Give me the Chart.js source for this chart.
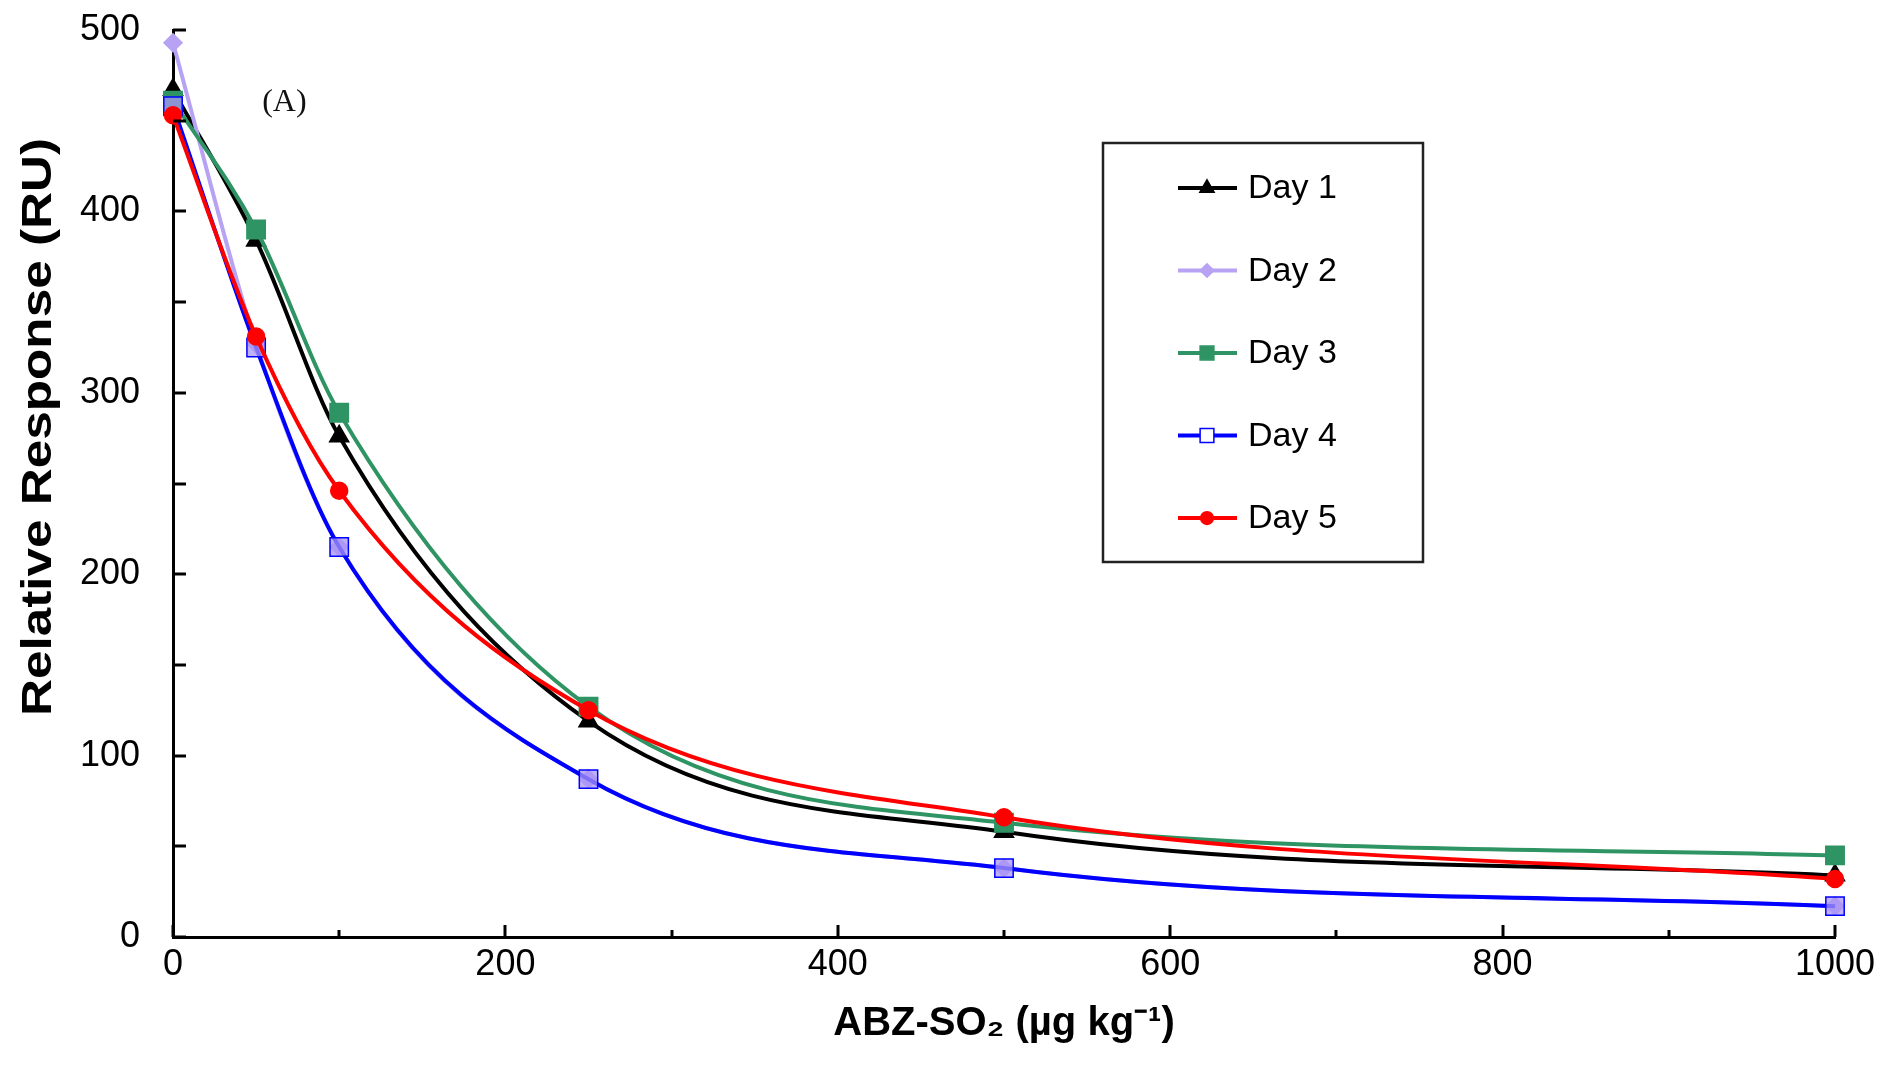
<!DOCTYPE html>
<html>
<head>
<meta charset="utf-8">
<title>Relative Response vs ABZ-SO2</title>
<script src="https://cdn.jsdelivr.net/npm/chart.js@4.4.1/dist/chart.umd.min.js"></script>
<style>
  html, body { margin: 0; padding: 0; background: #fff; }
  canvas { display: block; }
</style>
</head>
<body>
<canvas id="responseChart" width="1885" height="1079"></canvas>
<script>
// spiked concentration (µg/kg) and instrument response per day
const concentrations = [0, 50, 100, 250, 500, 1000];
const day1 = [467, 384, 276, 119, 58, 34];
const day2 = [493, 327, 215, 87, 38, 17];
const day3 = [461, 390, 289, 127, 63, 45];
const day4 = [458, 325, 215, 87, 38, 17];
const day5 = [453, 331, 246, 125, 66, 32];
const dayLabels = ['Day 1', 'Day 2', 'Day 3', 'Day 4', 'Day 5'];

const FONT = "'Liberation Sans', Arial, sans-serif";

function toPoints(values) {
  return concentrations.map((x, i) => ({ x: x, y: values[i] }));
}

function series(label, values, color, style, radius, fill, order) {
  return {
    label: label,
    data: toPoints(values),
    borderColor: color,
    backgroundColor: color,
    borderWidth: 4,
    pointStyle: style,
    pointRadius: radius,
    pointHoverRadius: radius,
    pointBackgroundColor: fill,
    pointBorderColor: color,
    pointBorderWidth: 1.5,
    cubicInterpolationMode: 'monotone',
    clip: 20,
    order: order
  };
}

// short inward tick marks on both axes
const innerTicks = {
  id: 'innerTicks',
  afterDatasetsDraw(chart) {
    const { ctx, chartArea, scales } = chart;
    ctx.save();
    ctx.strokeStyle = '#000';
    ctx.lineWidth = 3;
    scales.y.ticks.forEach(t => {
      const py = Math.round(scales.y.getPixelForValue(t.value));
      ctx.beginPath();
      ctx.moveTo(chartArea.left, py);
      ctx.lineTo(chartArea.left + 13, py);
      ctx.stroke();
    });
    scales.x.ticks.forEach(t => {
      const px = Math.round(scales.x.getPixelForValue(t.value));
      const len = t.value % 200 === 0 ? 12 : 7;
      ctx.beginPath();
      ctx.moveTo(px, chartArea.bottom);
      ctx.lineTo(px, chartArea.bottom - len);
      ctx.stroke();
    });
    ctx.restore();
  }
};

// vertical axis title, drawn a little stretched along its length
const yTitle = {
  id: 'yTitle',
  afterDraw(chart) {
    const { ctx } = chart;
    ctx.save();
    ctx.translate(39, 427);
    ctx.rotate(-Math.PI / 2);
    ctx.scale(1.22, 1);
    ctx.fillStyle = '#000';
    ctx.font = 'bold 42px ' + FONT;
    ctx.textAlign = 'center';
    ctx.textBaseline = 'middle';
    ctx.fillText('Relative Response (RU)', 0, 0);
    ctx.restore();
  }
};

// panel letter
const panelLabel = {
  id: 'panelLabel',
  afterDraw(chart) {
    const { ctx, scales } = chart;
    ctx.save();
    ctx.fillStyle = '#111';
    ctx.font = "32px 'Liberation Serif', 'Times New Roman', serif";
    ctx.textAlign = 'center';
    ctx.textBaseline = 'middle';
    ctx.fillText('(A)', scales.x.getPixelForValue(67), scales.y.getPixelForValue(460));
    ctx.restore();
  }
};

// boxed legend sitting inside the plot
const boxLegend = {
  id: 'boxLegend',
  afterDraw(chart) {
    const { ctx } = chart;
    const left = 1103, top = 143, width = 320, height = 419;
    ctx.save();
    ctx.fillStyle = '#fff';
    ctx.fillRect(left, top, width, height);
    ctx.strokeStyle = '#222';
    ctx.lineWidth = 2.5;
    ctx.strokeRect(left, top, width, height);
    chart.data.datasets.forEach((ds, i) => {
      const y = top + 45 + i * 82.5;
      ctx.strokeStyle = ds.borderColor;
      ctx.lineWidth = 4;
      ctx.beginPath();
      ctx.moveTo(left + 75, y);
      ctx.lineTo(left + 134, y);
      ctx.stroke();
      ctx.fillStyle = ds.legendFill || ds.pointBackgroundColor;
      ctx.strokeStyle = ds.pointBorderColor;
      ctx.lineWidth = 1.5;
      Chart.helpers.drawPoint(ctx, {
        pointStyle: ds.pointStyle,
        radius: ds.pointRadius * 0.75,
        borderWidth: 1.5,
        rotation: 0
      }, left + 104, y);
      ctx.fillStyle = '#000';
      ctx.font = '34px ' + FONT;
      ctx.textAlign = 'left';
      ctx.textBaseline = 'middle';
      ctx.fillText(ds.label, left + 145, y + 1);
    });
    ctx.restore();
  }
};

const day4Set = series(dayLabels[3], day4, '#0000ff', 'rect', 13, 'rgba(170,150,245,0.75)', 2);
day4Set.legendFill = '#ffffff';

new Chart(document.getElementById('responseChart'), {
  type: 'line',
  data: {
    datasets: [
      series(dayLabels[0], day1, '#000000', 'triangle', 11, '#000000', 5),
      series(dayLabels[1], day2, '#b7a2f4', 'rectRot', 9, '#b7a2f4', 4),
      series(dayLabels[2], day3, '#2f9463', 'rect', 13, '#2f9463', 3),
      day4Set,
      series(dayLabels[4], day5, '#ff0000', 'circle', 8.5, '#ff0000', 1)
    ]
  },
  options: {
    responsive: false,
    animation: false,
    layout: { padding: { top: 30, right: 50, bottom: 0, left: 0 } },
    plugins: {
      legend: { display: false },
      tooltip: { enabled: false }
    },
    scales: {
      x: {
        type: 'linear',
        min: 0,
        max: 1000,
        grid: { display: false, drawTicks: true, tickLength: 2 },
        border: { display: true, color: '#000', width: 3 },
        ticks: {
          stepSize: 100,
          autoSkip: false,
          maxRotation: 0,
          padding: 4,
          color: '#000',
          font: { family: FONT, size: 36 },
          callback: v => (v % 200 === 0 ? v : '')
        },
        title: {
          display: true,
          text: 'ABZ-SO₂ (µg kg⁻¹)',
          color: '#000',
          font: { family: FONT, size: 40, weight: 'bold' },
          padding: { top: 0, bottom: 31 }
        },
        afterFit(scale) { scale.height = 142; }
      },
      y: {
        min: 0,
        max: 500,
        grid: { display: false, drawTicks: true, tickLength: 29 },
        border: { display: true, color: '#000', width: 3 },
        ticks: {
          stepSize: 50,
          autoSkip: false,
          padding: 4,
          color: '#000',
          font: { family: FONT, size: 36 },
          callback: v => (v % 100 === 0 ? v : '')
        },
        title: { display: false },
        afterFit(scale) { scale.width = 173; }
      }
    }
  },
  plugins: [innerTicks, yTitle, panelLabel, boxLegend]
});
</script>
</body>
</html>
